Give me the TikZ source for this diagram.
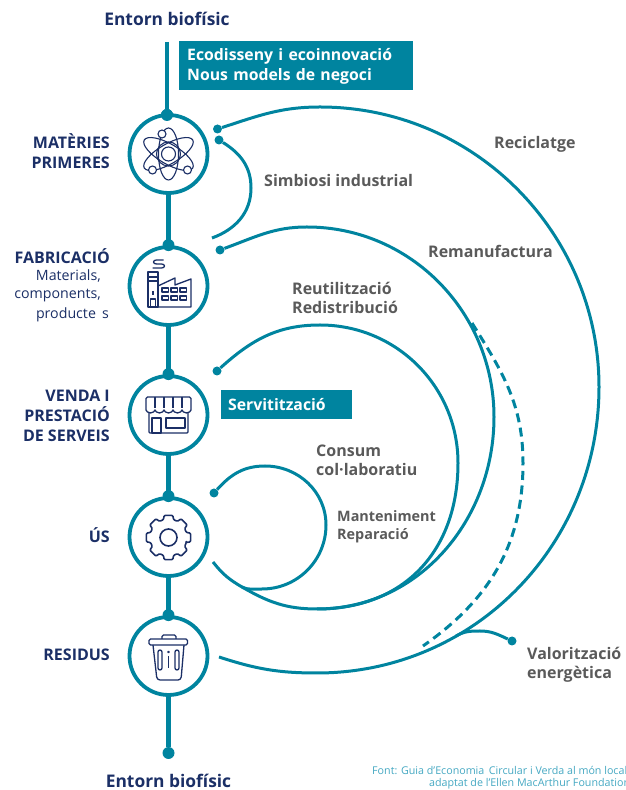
\documentclass[tikz,border=0pt]{standalone}
\usepackage{fontspec}
\setmainfont{Open Sans}
\usetikzlibrary{positioning}
\definecolor{teal}{HTML}{00849F}
\definecolor{navy}{HTML}{1B2F66}
\definecolor{grey}{HTML}{5A5A5A}
\definecolor{lightteal}{HTML}{45A8C2}
\tikzset{
  spine/.style={color=teal, line width=4.5pt},
  stage/.style={circle, draw=teal, line width=3.8pt, fill=white, minimum size=78pt, inner sep=0pt},
  dot/.style={circle, fill=teal, minimum size=9pt, inner sep=0pt},
  bigdot/.style={circle, fill=teal, minimum size=12pt, inner sep=0pt},
  link/.style={color=teal, line width=3pt},
  icon/.style={color=navy, line width=1.3pt, line join=round},
  stagelabel/.style={anchor=east, align=right, inner sep=0pt, text=navy, font=\fontsize{16}{20}\selectfont\bfseries},
  sublabel/.style={anchor=east, align=right, inner sep=0pt, text=navy, font=\fontsize{14.2}{19}\selectfont},
  looplabel/.style={anchor=west, align=left, inner sep=0pt, text=grey, font=\fontsize{16}{19}\selectfont\bfseries},
  smalllabel/.style={anchor=west, align=left, inner sep=0pt, text=grey, font=\fontsize{14.4}{18}\selectfont\bfseries},
  banner/.style={anchor=west, align=left, fill=teal, text=white, inner sep=0pt, font=\fontsize{15.8}{20}\selectfont\bfseries},
  earth/.style={text=navy, inner sep=0pt, font=\fontsize{17.4}{20}\selectfont\bfseries}
}
\begin{document}
\begin{tikzpicture}[x=1pt, y=1pt]
	\useasboundingbox (0, 0) rectangle (625, 790);

	% stages
	\coordinate (topend) at (167, 748);
	\node[bigdot] (topdot) at (167, 675) {};
	\node[bigdot] (enddot) at (168.5, 37) {};
	\draw[spine] (topend) -- (topdot);
	\draw[spine] (168.5, 636) -- (enddot);
	\node[stage] (mat) at (168.5, 636) {};
	\node[stage] (fab) at (168.5, 504) {};
	\node[stage] (ven) at (168.5, 375) {};
	\node[stage] (us) at (168.5, 253) {};
	\node[stage] (res) at (168.5, 134) {};
	\node[bigdot] at (167, 675) {};
	\node[bigdot] (fabdot) at (fab.north) {};
	\node[bigdot] (vendot) at (ven.north) {};
	\node[bigdot] (usdot) at (us.north) {};
	\node[bigdot] (resdot) at (res.north) {};

	% labels on the left
	\node[earth] (earthtop) at (167, 771) {Entorn biofísic};
	\node[earth] (earthbot) at (168.5, 9.5) {Entorn biofísic};
	\node[stagelabel] (matlabel) at (110, 639) {MATÈRIES\\PRIMERES};
	\node[stagelabel] (fablabel) at (110, 534) {FABRICACIÓ};
	\node[sublabel] (fabsub1) at (101, 514) {Materials,};
	\node[sublabel] (fabsub2) at (101, 494) {components,};
	\node[sublabel] (fabsub3) at (109, 475) {producte\, s};
	\node[stagelabel] (venlabel) at (110, 374.5) {VENDA I\\PRESTACIÓ\\DE SERVEIS};
	\node[stagelabel] (uslabel) at (110, 255) {ÚS};
	\node[stagelabel] (reslabel) at (110, 135) {RESIDUS};

	% banners
	\node[banner, minimum height=49pt, text width=218pt, inner xsep=8pt] (eco) at (179, 724.5) {\rule{0pt}{14.5pt}Ecodisseny i ecoinnovació\\Nous models de negoci};
	\node[banner, minimum height=29pt, text width=117pt, inner xsep=7pt] (serv) at (221, 385.5) {Servitització};

	% loops
	\node[dot] (rec1) at (217.5, 661) {};
	\coordinate (rectop) at (320, 683);
	\coordinate (recright) at (599, 403);
	\coordinate (recbot) at (317, 117);
	\coordinate (rec2) at (219, 133);
	\draw[link] (rec1) to[out=18, in=180] (rectop) to[out=0, in=90] (recright) to[out=-90, in=0] (recbot) to[out=180, in=-18] (rec2);

	\node[dot] (sim1) at (219, 650) {};
	\coordinate (simright) at (251, 602);
	\coordinate (sim2) at (212, 552);
	\draw[link] (sim1) to[out=-32, in=90] (simright) to[out=-90, in=20] (sim2);

	\node[dot] (rem1) at (220, 540) {};
	\coordinate (remtop) at (307, 563);
	\coordinate (remright) at (494, 373);
	\coordinate (rembot) at (317, 181);
	\coordinate (remleft) at (242, 203);
	\coordinate (rem2) at (213, 228);
	\draw[link] (rem1) to[out=20, in=180] (remtop) to[out=0, in=90] (remright) to[out=-90, in=0] (rembot) to[out=180, in=-30] (remleft) to[out=150, in=-52] (rem2);

	\node[dot] (reu1) at (217, 419) {};
	\coordinate (reutop) at (320, 465);
	\coordinate (reuright) at (458, 327);
	\draw[link] (reu1) to[out=42, in=180] (reutop) to[out=0, in=90] (reuright) to[out=-90, in=0, looseness=1.1] (rembot);

	\node[dot] (con1) at (214, 297) {};
	\coordinate (contop) at (265, 324);
	\coordinate (conright) at (326, 265);
	\coordinate (conbot) at (262, 201);
	\draw[link] (con1) to[out=48, in=180] (contop) to[out=0, in=90] (conright) to[out=-90, in=0] (conbot) to[out=180, in=-25] (remleft);

	\coordinate (dash1) at (472, 467);
	\coordinate (dashright) at (523, 327);
	\coordinate (dash2) at (423, 144);
	\draw[link, dash pattern=on 9pt off 5.5pt] (dash1) to[out=-58, in=90] (dashright) to[out=-90, in=35] (dash2);

	\node[dot] (val1) at (512, 149) {};
	\coordinate (valtop) at (480, 159);
	\coordinate (val2) at (456, 154);
	\draw[link] (val1) to[out=155, in=0] (valtop) to[out=180, in=30] (val2);

	% loop labels
	\node[looplabel] (reclabel) at (494, 646) {Reciclatge};
	\node[looplabel] (simlabel) at (264, 609) {Simbiosi industrial};
	\node[looplabel] (remlabel) at (428, 539) {Remanufactura};
	\node[looplabel] (reulabel) at (292, 492.5) {Reutilització\\Redistribució};
	\node[looplabel] (conlabel) at (316, 329.5) {Consum\\col·laboratiu};
	\node[smalllabel] (manlabel) at (337, 263) {Manteniment\\Reparació};
	\node[looplabel] (vallabel) at (527, 125.5) {Valorització\\energètica};
	\node[anchor=west, inner sep=0pt, text=lightteal, font=\fontsize{10.7}{12}\selectfont] (font1) at (372, 20) {Font: Guia d’Economia\, Circular i Verda al món local};
	\node[anchor=west, inner sep=0pt, text=lightteal, font=\fontsize{10.7}{12}\selectfont] (font2) at (429, 6) {adaptat de l’Ellen MacArthur Foundation};

	% atom
	\begin{scope}[shift={(mat.center)}, icon, line width=1.1pt]
		\draw (0, 0) ellipse (10 and 26);
		\draw[rotate=60] (0, 0) ellipse (10 and 28);
		\draw[rotate=-60] (0, 0) ellipse (10 and 28);
		\draw (0, 0) circle (7);
		\draw (0, 0) circle (12);
		\draw[fill=white] (-6.5, 20) circle (4);
		\draw[fill=white] (-16, -16) circle (4);
		\draw[fill=white] (19, -16) circle (4);
	\end{scope}

	% factory
	\begin{scope}[shift={(fab.center)}, icon]
		\draw (-20.5, -21) rectangle (-10.5, 14) (-21.5, 9) -- (-9.5, 9) (-20.5, 5) -- (-10.5, 5);
		\draw (-18, -21) -- (-18, -13) -- (-13, -13) -- (-13, -21) (-15.5, -5) -- (-15.5, -9);
		\draw (-10.5, -21) -- (22.5, -21) -- (22.5, 7) -- (6.5, 1) -- (6.5, 8) -- (-10.5, 0);
		\draw (-5, 26) -- (-12, 26) .. controls (-16, 26) and (-16, 22) .. (-12, 22) -- (-7, 22) .. controls (-3, 22) and (-3, 18) .. (-7, 18) -- (-16, 18);
		\foreach \wx in {-6.5, 2.5, 11.5} {
			\draw (\wx, -6) rectangle +(6.5, 4);
			\draw (\wx, -14) rectangle +(6.5, 4);
		}
	\end{scope}

	% shop
	\begin{scope}[shift={(ven.center)}, icon]
		\draw[rounded corners=1pt] (-19.5, 5) rectangle (19.5, -18);
		\draw[fill=white, rounded corners=1.5pt] (-22.5, 18) -- (-22.5, 6.5) arc[start angle=180, end angle=360, radius=4.5] arc[start angle=180, end angle=360, radius=4.5] arc[start angle=180, end angle=360, radius=4.5] arc[start angle=180, end angle=360, radius=4.5] arc[start angle=180, end angle=360, radius=4.5] -- (22.5, 18) -- cycle;
		\foreach \sx in {-13.5, -4.5, 4.5, 13.5} {
			\draw (\sx, 18) -- (\sx, 6.5);
		}
		\draw (-16.5, -18) rectangle (-7.5, -3);
		\draw (-2.5, -13) rectangle (16.5, -3);
	\end{scope}

	% gear
	\begin{scope}[shift={(us.center)}, icon, line width=1.6pt]
		\draw (0, -0.5) circle (8.5);
		\draw[yshift=-0.5pt, rounded corners=1pt] (-16:18.5) \foreach \ga in {0, 45, ..., 315} {
			-- ({\ga-16}:18.5) -- ({\ga-11}:22.5) -- ({\ga+11}:22.5) -- ({\ga+16}:18.5)
		} -- cycle;
	\end{scope}

	% bin
	\begin{scope}[shift={(res.center)}, icon]
		\draw[rounded corners=1.5pt] (-19.5, 17) rectangle (19, 11);
		\draw[rounded corners=1.5pt] (-6.5, 17) -- (-6.5, 21) -- (7.5, 21) -- (7.5, 17);
		\draw[rounded corners=3pt] (-15.5, 11) -- (-11.5, -24) -- (12.5, -24) -- (15.5, 11);
		\foreach \bx in {-8.5, 8.5} {
			\draw[rounded corners=2pt] (\bx-2, 6) rectangle (\bx+2, -14);
		}
		\draw (0, 0) -- (0, -12);
		\draw (0, 4) circle (0.7);
	\end{scope}
\end{tikzpicture}
\end{document}
